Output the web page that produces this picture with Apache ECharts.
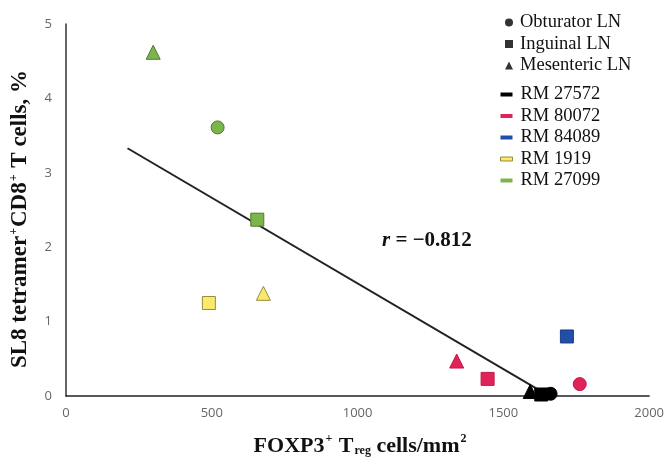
<!DOCTYPE html>
<html><head><meta charset="utf-8">
<script src="https://cdn.jsdelivr.net/npm/echarts@6/dist/echarts.min.js"></script>
<style>html,body{margin:0;padding:0;background:#fff}#c{width:667px;height:464px}</style>
</head><body><div id="c"></div>
<script>
// Lymph node types (symbol order) and animals (colour series)
const nodes = ['Obturator LN', 'Inguinal LN', 'Mesenteric LN'];
const nodeSymbols = ['circle', 'rect', 'triangle'];
const monkeys = ['RM 27572', 'RM 80072', 'RM 84089', 'RM 1919', 'RM 27099'];
// [FOXP3+ Treg cells/mm2, SL8 tetramer+ %] per node: obturator, inguinal, mesenteric
const rm27572 = [[1662, 0.03], [1630, 0.02], [1592, 0.06]];
const rm80072 = [[1762, 0.16], [1446, 0.23], [1340, 0.47]];
const rm84089 = [null, [1718, 0.80], null];
const rm1919  = [null, [490, 1.25], [677, 1.38]];
const rm27099 = [[520, 3.61], [656, 2.37], [299, 4.62]];
const monkeyData = [rm27572, rm80072, rm84089, rm1919, rm27099];
// regression line end points
const trendX = [211, 1636];
const trendY = [3.33, 0.05];
const xTicks = [0, 500, 1000, 1500, 2000];
const yTicks = [0, 1, 2, 3, 4, 5];

const fills = ['#000000', '#e0245a', '#1f4fa8', '#fbe96c', '#7cb54c'];
const borders = ['#000000', '#c01a48', '#1a3f85', '#9a8a3a', '#4f7a2e'];
const serif = '"Liberation Serif", "Times New Roman", serif';

const series = [];
series.push({
  type: 'line', name: 'trend', data: trendX.map((x, i) => [x, trendY[i]]),
  symbol: 'none', lineStyle: { color: '#222', width: 2 }, z: 1, silent: true
});
nodes.forEach((n, i) => {
  series.push({ type: 'scatter', name: n, data: [], symbol: nodeSymbols[i], itemStyle: { color: '#000' } });
});
monkeys.forEach((m, k) => {
  const pts = [];
  monkeyData[k].forEach((p, i) => {
    if (p) pts.push({ value: p, symbol: nodeSymbols[i], symbolSize: i === 2 ? 14 : 13 });
  });
  series.push({
    type: 'scatter', name: m, data: pts, z: 3,
    itemStyle: { color: fills[k], borderColor: borders[k], borderWidth: 1, opacity: 1 }
  });
});

function richTitle(size) {
  return {
    b: { fontFamily: serif, fontWeight: 'bold', fontSize: size, color: '#111', verticalAlign: 'bottom', lineHeight: 24 },
    sup: { fontFamily: serif, fontWeight: 'bold', fontSize: 12, color: '#111', verticalAlign: 'top', lineHeight: 24, padding: [0, 1, 4, 1] },
    sub: { fontFamily: serif, fontWeight: 'bold', fontSize: 12, color: '#111', verticalAlign: 'bottom', lineHeight: 24, padding: [6, 0, 0, 1] }
  };
}

const chart = echarts.init(document.getElementById('c'), null, { renderer: 'canvas' });
chart.setOption({
  animation: false,
  backgroundColor: '#fff',
  grid: { left: 64, right: 16, top: 24, bottom: 68, containLabel: false },
  legend: [
    {
      data: nodes.map((n, i) => ({ name: n, icon: nodeSymbols[i] })),
      orient: 'vertical', left: 500, top: 8, itemWidth: 8, itemHeight: 8, itemGap: 2.5, selectedMode: false,
      textStyle: { fontFamily: serif, fontSize: 18.5, color: '#111', padding: [0, 0, 0, 2], lineHeight: 19 }
    },
    {
      data: monkeys.map((m, k) => ({ name: m, icon: 'rect', itemStyle: { color: fills[k], borderColor: borders[k], borderWidth: k === 3 ? 1 : 0 } })),
      orient: 'vertical', left: 495, top: 80, itemWidth: 12, itemHeight: 4, itemGap: 2.5, selectedMode: false,
      textStyle: { fontFamily: serif, fontSize: 18.5, color: '#111', padding: [0, 0, 0, 3], lineHeight: 19 }
    }
  ],
  xAxis: {
    type: 'value', min: xTicks[0], max: xTicks[xTicks.length - 1], interval: 500,
    axisLine: { show: true, lineStyle: { color: '#222', width: 1.5 } },
    axisTick: { show: false }, splitLine: { show: false },
    axisLabel: { color: '#666', fontSize: 13, fontFamily: '"Open Sans", sans-serif', margin: 11, formatter: v => String(v) },
    name: '{b|FOXP3}{sup|+}{b| T}{sub|reg}{b| cells/mm}{sup|2}',
    nameLocation: 'middle', nameGap: 37,
    nameTextStyle: { rich: richTitle(22), padding: [0, 0, 0, 6] }
  },
  yAxis: {
    type: 'value', min: yTicks[0], max: yTicks[yTicks.length - 1], interval: 1,
    axisLine: { show: true, lineStyle: { color: '#333', width: 1.5 } },
    axisTick: { show: false }, splitLine: { show: false },
    axisLabel: { color: '#666', fontSize: 13, fontFamily: '"Open Sans", sans-serif', margin: 14, formatter: v => String(v) },
    name: '{b|SL8 tetramer}{sup|+}{b|CD8}{sup|+}{b| T cells, %}',
    nameLocation: 'middle', nameGap: 34,
    nameTextStyle: { rich: richTitle(23), padding: [0, 18, 0, 0] }
  },
  graphic: [{
    type: 'text', left: 382, top: 230,
    style: {
      text: '{i|r}{n| = \u22120.812}',
      rich: {
        i: { fontFamily: serif, fontWeight: 'bold', fontStyle: 'italic', fontSize: 21, fill: '#111' },
        n: { fontFamily: serif, fontWeight: 'bold', fontSize: 21, fill: '#111' }
      }
    }
  }],
  series: series
});
</script></body></html>
